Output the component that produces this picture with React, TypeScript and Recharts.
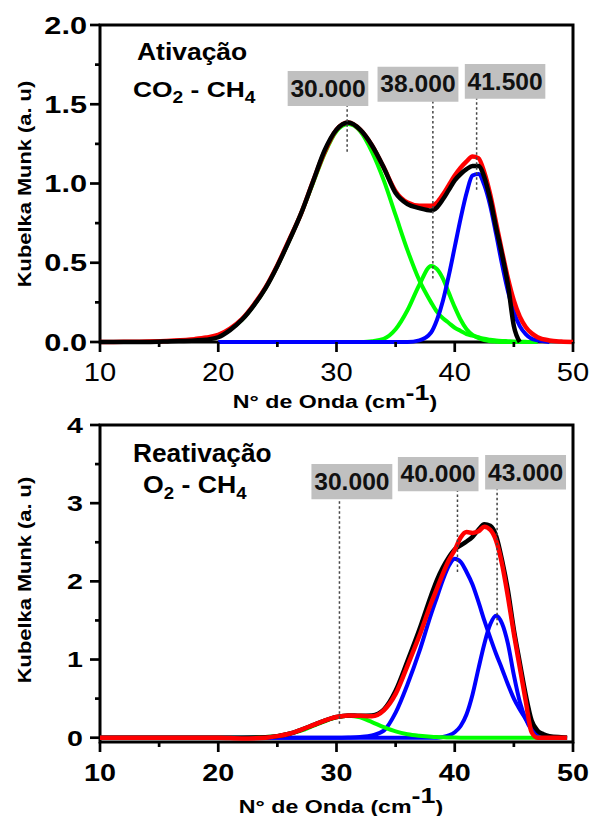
import React from 'react';
import { LineChart, Line, XAxis, YAxis, ReferenceArea, ReferenceLine } from 'recharts';

const FONT = '"Liberation Sans", Arial, Helvetica, sans-serif';

// ---------------- Top panel: Ativação CO2 - CH4 ----------------
const topX = [10, 12, 14, 16, 18, 19, 20, 21, 22, 23, 24, 25, 26, 27, 28, 29, 30, 31, 32, 33, 34, 35, 36, 37, 38,
  38.5, 39, 39.5, 40, 40.5, 41, 41.5, 42, 42.5, 43, 43.5, 44, 44.5, 45, 45.5, 46, 46.5, 47, 48, 49, 50];
// experimental (black)
const topExp = [0, 0, 0, 0.005, 0.01, 0.015,
  0.03, 0.075, 0.14, 0.23, 0.34, 0.48, 0.64, 0.81, 1.01, 1.21, 1.34, 1.385, 1.34, 1.24, 1.1, 0.94, 0.87, 0.845, 0.83,
  0.85, 0.9, 0.96, 1.02, 1.06, 1.09, 1.11, 1.11, 1.04, 0.9, 0.72, 0.55, 0.36, 0.1, 0, null, null, null,
  null, null, null];
// cumulative fit (red)
const topFit = [0, 0.001, 0.003, 0.008, 0.018, 0.028,
  0.045, 0.085, 0.145, 0.235, 0.345, 0.485, 0.645, 0.81, 1.01, 1.2, 1.34, 1.385, 1.34, 1.24, 1.1, 0.95, 0.88, 0.86, 0.86,
  0.88, 0.93, 0.99, 1.05, 1.1, 1.14, 1.17, 1.16, 1.07, 0.93, 0.75, 0.57, 0.4, 0.26, 0.16, 0.095, 0.055, 0.03,
  0.01, 0.003, 0];
// peak 30.000 (green)
const topPeak30 = [null, null, null, null, null, null,
  0.04, 0.08, 0.14, 0.23, 0.34, 0.48, 0.64, 0.81, 1.0, 1.19, 1.33, 1.375, 1.33, 1.2, 1.02, 0.8, 0.58, 0.39, 0.25,
  0.19, 0.15, 0.12, 0.09, 0.07, 0.05, 0.04, 0.03, 0.02, 0.015, 0.01, 0.007, 0.005, 0.003, 0.002, 0.001, 0, 0,
  null, null, null];
// peak 38.000 (green)
const topPeak38 = [null, null, null, null, null, null,
  null, null, null, null, null, null, null, null, null, null, null, null, 0, 0.005, 0.02, 0.08, 0.2, 0.36, 0.48,
  0.46, 0.4, 0.31, 0.22, 0.14, 0.08, 0.045, 0.025, 0.012, 0.005, 0.002, 0, 0, 0, 0, 0, 0, 0,
  null, null, null];
// peak 41.500 (blue)
const topPeak41 = [null, null, null, null, null, null,
  0, 0, 0, 0, 0, 0, 0, 0, 0, 0, 0, 0, 0, 0, 0, 0, 0, 0.01, 0.06,
  0.14, 0.26, 0.42, 0.6, 0.78, 0.94, 1.05, 1.06, 0.99, 0.86, 0.68, 0.49, 0.32, 0.19, 0.1, 0.05, 0.02, 0.01,
  0, null, null];

// ---------------- Bottom panel: Reativação O2 - CH4 ----------------
const botX = [10, 12, 14, 16, 18, 20, 22, 24,
  25, 26, 27, 28, 29, 30, 31, 32, 33, 34, 35, 36, 37, 38,
  38.5, 39, 39.5, 40, 40.5, 41, 41.5, 42, 42.5, 43, 43.5, 44, 44.5, 45, 45.5, 46, 46.5, 47, 47.5, 48,
  49, 49.5];
const botExp = [0, 0, 0, 0, 0, 0, 0, 0.005,
  0.02, 0.05, 0.1, 0.16, 0.22, 0.265, 0.285, 0.28, 0.285, 0.36, 0.6, 0.98, 1.38, 1.82,
  2.02, 2.18, 2.31, 2.41, 2.46, 2.51, 2.57, 2.66, 2.73, 2.71, 2.58, 2.27, 1.88, 1.38, 0.96, 0.55, 0.22, 0.09, 0.045, 0.02,
  0.005, 0];
const botFit = [0, 0, 0, 0, 0, 0, -0.01, 0,
  0.02, 0.05, 0.1, 0.16, 0.22, 0.265, 0.285, 0.28, 0.275, 0.35, 0.56, 0.92, 1.3, 1.72,
  1.91, 2.1, 2.27, 2.4, 2.56, 2.63, 2.62, 2.64, 2.7, 2.66, 2.52, 2.22, 1.8, 1.33, 0.9, 0.47, 0.07, 0, 0, 0,
  0, 0];
const botPeak30 = [0, 0, 0, 0, 0, 0, 0, 0.01,
  0.02, 0.05, 0.09, 0.15, 0.21, 0.26, 0.28, 0.26, 0.2, 0.135, 0.08, 0.045, 0.025, 0.012,
  0.008, 0.005, 0.003, 0.001, 0, 0, 0, 0, 0, 0, 0, 0, 0, 0, 0, 0, 0, 0, 0, 0,
  0, 0];
const botPeak40 = [0, 0, 0, 0, 0, 0, 0, 0,
  0, 0, 0, 0, 0, 0, 0.003, 0.01, 0.03, 0.09, 0.32, 0.68, 1.1, 1.58,
  1.8, 2.02, 2.2, 2.29, 2.25, 2.12, 1.96, 1.74, 1.5, 1.28, 1.07, 0.88, 0.68, 0.5, 0.36, 0.24, 0.13, 0.06, 0.02, 0.005,
  0, 0];
const botPeak43 = [0, 0, 0, 0, 0, 0, 0, 0,
  0, 0, 0, 0, 0, 0, 0, 0, 0, 0, 0, 0, 0, 0,
  0, 0.01, 0.03, 0.07, 0.15, 0.3, 0.55, 0.88, 1.2, 1.45, 1.56, 1.46, 1.2, 0.8, 0.46, 0.24, 0.1, 0.04, 0.015, 0.005,
  0, 0];

// ticks
const xTicks = [10, 15, 20, 25, 30, 35, 40, 45, 50];
const topYTicks = [0, 0.25, 0.5, 0.75, 1, 1.25, 1.5, 1.75, 2];
const botYTicks = [0, 0.5, 1, 1.5, 2, 2.5, 3, 3.5, 4];

// peak annotation labels and centres
const topPeakLabels = ['30.000', '38.000', '41.500'];
const topPeakCenters = [30.9, 38.15, 41.85];
const botPeakLabels = ['30.000', '40.000', '43.000'];
const botPeakCenters = [30.25, 40.23, 43.58];

// annotation layout (data units)
const topAnnLayout = {
  x1: [25.87, 33.47, 40.85], x2: [32.69, 40.31, 47.66],
  y1: [1.489, 1.516, 1.535], y2: [1.71, 1.737, 1.754],
  low: [1.2, 0.4, 0.96],
};
const botAnnLayout = {
  x1: [27.88, 35.19, 42.57], x2: [34.72, 42.01, 49.41],
  y1: [3.05, 3.154, 3.176], y2: [3.5, 3.59, 3.615],
  low: [0.18, 2.12, 1.44],
};

const topRows = topX.map((x, i) => ({
  x, exp: topExp[i], fit: topFit[i], p30: topPeak30[i], p38: topPeak38[i], p41: topPeak41[i],
}));
const botRows = botX.map((x, i) => ({
  x, exp: botExp[i], fit: botFit[i], p30: botPeak30[i], p40: botPeak40[i], p43: botPeak43[i],
}));

type TickStyle = { size: number; sx: number; bold: boolean; gap: number };

const makeYTick = (isMajor: (v: number) => boolean, fmt: (v: number) => string, st: TickStyle) => (props: any) => {
  const { x, y, payload } = props;
  const v = Number(payload.value);
  const major = isMajor(v);
  return (
    <g>
      <line x1={x} x2={x - (major ? 10 : 5)} y1={y} y2={y} stroke="#000" strokeWidth={2.7} />
      {major ? (
        <text transform={`translate(${x - st.gap},${y}) scale(${st.sx},1)`} textAnchor="end" dy="0.36em"
          fontFamily={FONT} fontWeight={st.bold ? 700 : 400} fontSize={st.size} fill="#000">{fmt(v)}</text>
      ) : null}
    </g>
  );
};

const makeXTick = (st: TickStyle) => (props: any) => {
  const { x, y, payload } = props;
  const v = Number(payload.value);
  const major = v % 10 === 0;
  return (
    <g>
      <line x1={x} x2={x} y1={y} y2={y + (major ? 10 : 5)} stroke="#000" strokeWidth={2.7} />
      {major ? (
        <text transform={`translate(${x},${y + st.gap}) scale(${st.sx},1)`} textAnchor="middle"
          fontFamily={FONT} fontWeight={st.bold ? 700 : 400} fontSize={st.size} fill="#000">{String(v)}</text>
      ) : null}
    </g>
  );
};

const boxLabel = (text: string) => (p: any) => {
  const vb = p.viewBox || p;
  const cx = vb.x + vb.width / 2;
  const cy = vb.y + vb.height / 2;
  return (
    <text transform={`translate(${cx},${cy}) scale(1.07,1)`} textAnchor="middle" dy="0.36em"
      fontFamily={FONT} fontWeight={700} fontSize={23} fill="#111">{text}</text>
  );
};

type SeriesDef = { key: string; color: string; width: number };

const topSeries: SeriesDef[] = [
  { key: 'p30', color: '#00ff00', width: 4 },
  { key: 'p38', color: '#00ff00', width: 4 },
  { key: 'p41', color: '#0000ff', width: 4 },
  { key: 'fit', color: '#ff0000', width: 4.5 },
  { key: 'exp', color: '#000000', width: 4.5 },
];
const botSeries: SeriesDef[] = [
  { key: 'p40', color: '#0000ff', width: 4 },
  { key: 'p43', color: '#0000ff', width: 4 },
  { key: 'p30', color: '#00ff00', width: 4 },
  { key: 'exp', color: '#000000', width: 4.5 },
  { key: 'fit', color: '#ff0000', width: 4.5 },
];

type PanelProps = {
  top: number;
  rows: any[];
  series: SeriesDef[];
  yDomain: [number, number];
  yTicks: number[];
  yTick: any;
  xTick: any;
  labels: string[];
  centers: number[];
  ann: { x1: number[]; x2: number[]; y1: number[]; y2: number[]; low: number[] };
};

const Panel = ({ top, rows, series, yDomain, yTicks, yTick, xTick, labels, centers, ann }: PanelProps) => (
  <div style={{ position: 'absolute', left: 0, top, width: 590, height: 416 }}>
    <LineChart width={590} height={416} data={rows} margin={{ top: 25, right: 17, bottom: 34, left: 0 }}>
      <XAxis dataKey="x" type="number" domain={[10, 50]} ticks={xTicks} interval={0} tickSize={0} tickMargin={0}
        axisLine={false} tickLine={false} tick={xTick} height={40} />
      <YAxis type="number" domain={yDomain} ticks={yTicks} interval={0} tickSize={0} tickMargin={0}
        axisLine={false} tickLine={false} tick={yTick} width={100} />
      {series.map((s) => (
        <Line key={s.key} dataKey={s.key} type="monotone" stroke={s.color} strokeWidth={s.width}
          dot={false} activeDot={false} isAnimationActive={false} />
      ))}
      {labels.map((t, i) => (
        <ReferenceLine key={'g' + i} segment={[{ x: centers[i], y: ann.low[i] }, { x: centers[i], y: ann.y1[i] }]}
          stroke="#444" strokeWidth={1.5} strokeDasharray="2.5 2.5" ifOverflow="visible" />
      ))}
      {labels.map((t, i) => (
        <ReferenceArea key={'b' + i} x1={ann.x1[i]} x2={ann.x2[i]} y1={ann.y1[i]} y2={ann.y2[i]}
          fill="#c0c0c0" fillOpacity={1} stroke="none" ifOverflow="visible" label={boxLabel(t)} />
      ))}
      <ReferenceArea x1={10} x2={50} y1={yDomain[0]} y2={yDomain[1]} fill="none" fillOpacity={0}
        stroke="#000" strokeWidth={3} ifOverflow="visible" />
    </LineChart>
  </div>
);

export default function App() {
  const topYTick = makeYTick((v) => Math.abs(v * 2 - Math.round(v * 2)) < 1e-6, (v) => v.toFixed(1),
    { size: 24, sx: 1.28, bold: true, gap: 13 });
  const botYTick = makeYTick((v) => Math.abs(v - Math.round(v)) < 1e-6, (v) => String(v),
    { size: 22, sx: 1.3, bold: true, gap: 17 });
  const topXTick = makeXTick({ size: 26.5, sx: 1.1, bold: false, gap: 39 });
  const botXTick = makeXTick({ size: 23, sx: 1.25, bold: true, gap: 38.5 });

  return (
    <div style={{ position: 'absolute', left: 0, top: 0, width: 590, height: 816, background: '#fff', overflow: 'hidden' }}>
      <Panel top={0} rows={topRows} series={topSeries} yDomain={[0, 2]} yTicks={topYTicks} yTick={topYTick}
        xTick={topXTick} labels={topPeakLabels} centers={topPeakCenters} ann={topAnnLayout} />
      <Panel top={400} rows={botRows} series={botSeries} yDomain={[-0.055, 4]} yTicks={botYTicks} yTick={botYTick}
        xTick={botXTick} labels={botPeakLabels} centers={botPeakCenters} ann={botAnnLayout} />
      <svg width={590} height={816} style={{ position: 'absolute', left: 0, top: 0, pointerEvents: 'none' }}>
        <g fontFamily={FONT} fontWeight={700} fill="#000" style={{ whiteSpace: 'pre' }}>
          <text transform="translate(31,184) rotate(-90) scale(1.15,1)" textAnchor="middle" fontSize={19}>Kubelka Munk (a. u)</text>
          <text transform="translate(31,580) rotate(-90) scale(1.15,1)" textAnchor="middle" fontSize={19}>Kubelka Munk (a. u)</text>
          <text transform="translate(335,408) scale(1.22,1)" textAnchor="middle" fontSize={19}>
            N° de Onda (cm<tspan fontSize={22} dy={-8}>-1</tspan><tspan dy={8}>)</tspan>
          </text>
          <text transform="translate(341,813) scale(1.22,1)" textAnchor="middle" fontSize={19}>
            N° de Onda (cm<tspan fontSize={22} dy={-10}>-1</tspan><tspan dy={10}>)</tspan>
          </text>
          <text transform="translate(137,60) scale(1.15,1)" fontSize={23}>Ativação</text>
          <text transform="translate(133,97) scale(1.2,1)" fontSize={22}>
            CO<tspan fontSize={16} dy={6}>2</tspan><tspan dy={-6}> - CH</tspan><tspan fontSize={16} dy={6}>4</tspan>
          </text>
          <text transform="translate(133,462) scale(1.05,1)" fontSize={25}>Reativação</text>
          <text transform="translate(143,493) scale(1.16,1)" fontSize={23}>
            O<tspan fontSize={16} dy={6}>2</tspan><tspan dy={-6}> - CH</tspan><tspan fontSize={16} dy={6}>4</tspan>
          </text>
        </g>
      </svg>
    </div>
  );
}
